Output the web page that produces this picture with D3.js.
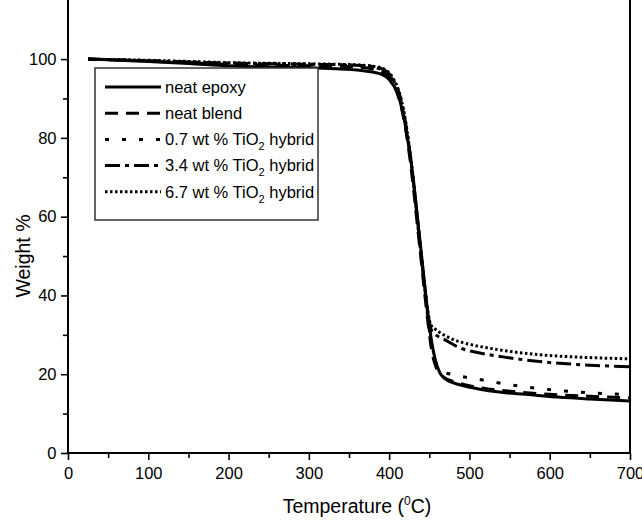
<!DOCTYPE html>
<html>
<head>
<meta charset="utf-8">
<script src="https://cdn.jsdelivr.net/npm/d3@7"></script>
<style>
  body { margin: 0; background: #fff; }
  svg text { font-family: "Liberation Sans", Arial, sans-serif; fill: #000; }
</style>
</head>
<body>
<div id="chart"></div>
<script>
// data
const xTicks = [0, 100, 200, 300, 400, 500, 600, 700];
const yTicks = [0, 20, 40, 60, 80, 100];

const epoxyT = [25, 100, 150, 200, 250, 300, 340, 370, 390, 400, 410, 417, 422, 427, 432, 437, 442, 447, 452, 457, 463, 470, 480, 490, 510, 540, 570, 610, 650, 700];
const epoxyW = [100, 99.4, 98.9, 98.3, 98.0, 97.8, 97.5, 97.0, 96.2, 94.8, 91.5, 86.5, 81, 74.5, 66, 56.5, 47, 37.5, 29.5, 24, 20.4, 18.8, 17.8, 17.2, 16.3, 15.4, 14.9, 14.2, 13.7, 13.2];

const blendT = [25, 100, 200, 300, 350, 380, 395, 405, 413, 419, 424, 429, 434, 439, 444, 449, 453, 458, 464, 470, 480, 500, 530, 560, 600, 650, 700];
const blendW = [100, 99.5, 98.7, 98.3, 98.1, 97.5, 96.3, 93.8, 89.5, 84, 77.5, 69.5, 60, 50.5, 41, 32, 26, 22, 20, 19, 18.2, 17.1, 16.1, 15.5, 14.9, 14.4, 14.0];

const tio07T = [25, 100, 200, 300, 350, 380, 395, 405, 413, 419, 424, 429, 434, 439, 444, 449, 452, 457, 462, 467, 480, 494, 520, 542, 570, 604, 650, 700];
const tio07W = [100, 99.6, 98.9, 98.6, 98.4, 97.9, 96.9, 94.5, 90.5, 85, 78.5, 70.5, 61, 51.5, 42, 33, 28, 23.5, 21.5, 20.6, 19.9, 19.3, 18.4, 17.6, 16.8, 16.0, 15.3, 14.8];

const tio34T = [25, 100, 200, 300, 350, 380, 395, 405, 413, 419, 424, 429, 434, 439, 444, 449, 453, 458, 467, 488, 510, 542, 570, 604, 650, 700];
const tio34W = [100, 99.6, 99, 98.7, 98.5, 98.1, 97.1, 94.8, 91, 85.5, 79, 71, 61.5, 52, 42.5, 34.5, 31, 30, 29, 26.7, 25.5, 24.4, 23.6, 22.9, 22.3, 21.9];

const tio67T = [25, 100, 200, 300, 350, 380, 395, 405, 413, 419, 424, 429, 434, 439, 444, 449, 452, 457, 463, 480, 500, 522, 550, 584, 630, 700];
const tio67W = [100, 99.7, 99.1, 98.8, 98.6, 98.2, 97.3, 95.1, 91.3, 86, 79.5, 71.5, 62, 52.5, 43, 35, 32.5, 31.5, 30.6, 28.8, 27.6, 26.7, 25.8, 25.0, 24.4, 23.9];

const seriesNames = ["neat epoxy", "neat blend", "0.7 wt % TiO", "3.4 wt % TiO", "6.7 wt % TiO"];
const seriesT = [epoxyT, blendT, tio07T, tio34T, tio67T];
const seriesW = [epoxyW, blendW, tio07W, tio34W, tio67W];
const dashes = [null, "13,8", "4,13", "15,5,4,5", "2.5,2.5"];

const width = 642, height = 521;
const margin = { top: 0, right: 12, bottom: 68, left: 68 };

const svg = d3.select("#chart").append("svg")
  .attr("width", width)
  .attr("height", height);

const x = d3.scaleLinear().domain([0, 700]).range([margin.left, width - margin.right]);
const y = d3.scaleLinear().domain([0, 115]).range([height - margin.bottom, margin.top]);

// X Axis
const xAxis = svg.append("g")
  .attr("transform", "translate(0," + (height - margin.bottom) + ")")
  .call(d3.axisBottom(x).tickValues(d3.range(0, 701, 50)).tickSize(6)
    .tickFormat(d => xTicks.includes(d) ? d : ""));
xAxis.selectAll(".tick line").attr("y2", d => xTicks.includes(d) ? 7 : 5);

// Y Axis
const yAxis = svg.append("g")
  .attr("transform", "translate(" + margin.left + ",0)")
  .call(d3.axisLeft(y).tickValues(d3.range(0, 101, 10)).tickSize(6)
    .tickFormat(d => yTicks.includes(d) ? d : ""));
yAxis.selectAll(".tick line").attr("x2", d => yTicks.includes(d) ? -7 : -5);

[xAxis, yAxis].forEach(g => {
  g.select(".domain").attr("d", null);
  g.selectAll(".tick line").attr("stroke-width", 1.6);
  g.selectAll(".tick text").attr("font-size", 16.5).attr("font-family", "Liberation Sans, Arial, sans-serif");
});
xAxis.selectAll(".tick text").attr("dy", "1.05em");
yAxis.selectAll(".tick text").attr("dx", "-0.15em");

// frame: left, bottom, right (top sits outside the picture)
const frame = svg.append("g").attr("stroke", "#000").attr("stroke-width", 2).attr("fill", "none");
frame.append("line").attr("x1", x(0)).attr("x2", x(0)).attr("y1", y(115)).attr("y2", y(0));
frame.append("line").attr("x1", x(0)).attr("x2", x(700)).attr("y1", y(0)).attr("y2", y(0));
frame.append("line").attr("x1", x(700)).attr("x2", x(700)).attr("y1", y(115)).attr("y2", y(0));

// curves
const line = d3.line().x(d => x(d[0])).y(d => y(d[1])).curve(d3.curveMonotoneX);
seriesT.forEach((ts, i) => {
  svg.append("path")
    .datum(ts.map((t, j) => [t, seriesW[i][j]]))
    .attr("d", line)
    .attr("fill", "none")
    .attr("stroke", "#000")
    .attr("stroke-width", 3)
    .attr("stroke-dasharray", dashes[i]);
});

// legend
const lg = svg.append("g").attr("transform", "translate(95,68)");
lg.append("rect").attr("width", 223).attr("height", 152)
  .attr("fill", "#fff").attr("stroke", "#333").attr("stroke-width", 1.5);
seriesNames.forEach((name, i) => {
  const yy = 19 + i * 26.2;
  lg.append("line").attr("x1", 10).attr("x2", 66).attr("y1", yy).attr("y2", yy)
    .attr("stroke", "#000").attr("stroke-width", 3).attr("stroke-dasharray", dashes[i]);
  const t = lg.append("text").attr("x", 70).attr("y", yy).attr("dy", "0.35em").attr("font-size", 16.5);
  t.append("tspan").text(name);
  if (i >= 2) {
    t.append("tspan").attr("font-size", 11).attr("dy", 5).text("2");
    t.append("tspan").attr("dy", -5).text(" hybrid");
  }
});

// axis titles
const xt = svg.append("text").attr("x", 357).attr("y", 513).attr("text-anchor", "middle").attr("font-size", 19.5);
xt.append("tspan").text("Temperature (");
xt.append("tspan").attr("font-size", 12).attr("dy", -8).text("0");
xt.append("tspan").attr("dy", 8).text("C)");

svg.append("text")
  .attr("transform", "translate(30," + y(50) + ") rotate(-90)")
  .attr("text-anchor", "middle")
  .attr("font-size", 19.5)
  .text("Weight %");
</script>
</body>
</html>
